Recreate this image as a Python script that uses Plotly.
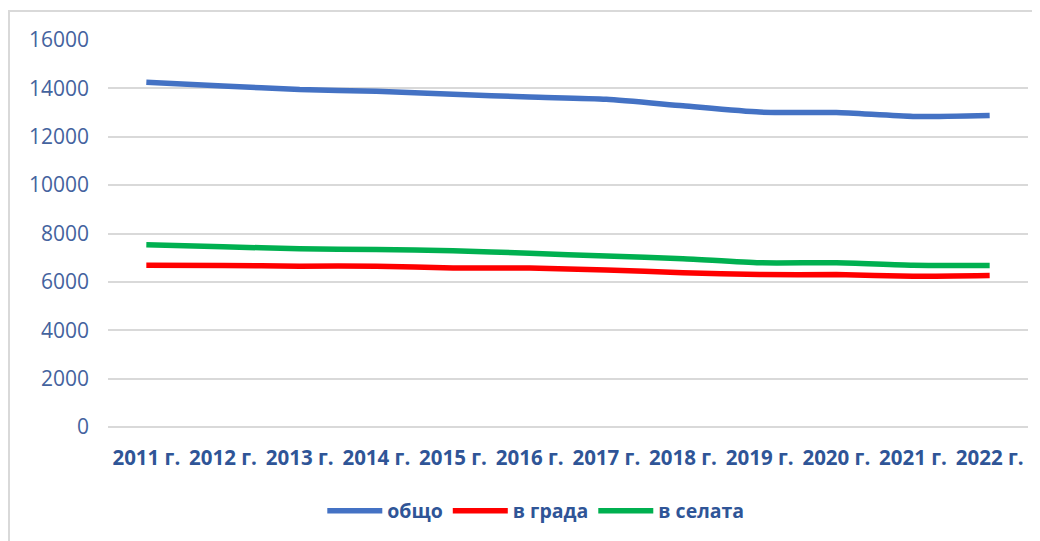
import plotly.graph_objects as go

# Data
years = ['2011 г.', '2012 г.', '2013 г.', '2014 г.', '2015 г.', '2016 г.',
         '2017 г.', '2018 г.', '2019 г.', '2020 г.', '2021 г.', '2022 г.']
total = [14250, 14100, 13950, 13880, 13760, 13640, 13550, 13280, 13020, 13000, 12840, 12880]
town = [6690, 6680, 6650, 6650, 6570, 6570, 6490, 6380, 6300, 6300, 6230, 6260]
villages = [7530, 7450, 7370, 7340, 7290, 7180, 7070, 6960, 6790, 6790, 6690, 6680]

series = [
    ('общо', total, '#4472C4'),
    ('в града', town, '#FF0000'),
    ('в селата', villages, '#00B050'),
]

fig = go.Figure()
for name, values, color in series:
    fig.add_trace(go.Scatter(
        x=years, y=values, name=name, mode='lines',
        line=dict(color=color, width=5.5, shape='spline', smoothing=0.6),
    ))

# Light grey frame around the whole chart
fig.add_shape(type='rect', xref='paper', yref='paper',
              x0=-0.1076, x1=1.04, y0=-0.33, y1=1.075,
              line=dict(color='#D9D9D9', width=2), fillcolor='rgba(0,0,0,0)')

# page body adds an 8px offset, margins are set to compensate
fig.update_layout(
    width=1040, height=541,
    margin=dict(l=100, r=20, t=32, b=122, autoexpand=False),
    paper_bgcolor='white', plot_bgcolor='white',
    font=dict(family='Open Sans, Liberation Sans, sans-serif'),
    showlegend=True,
    legend=dict(
        orientation='h', x=0.465, xanchor='center', y=-0.217, yanchor='middle',
        font=dict(size=19.5, color='#2F5597', family='Open Sans, sans-serif', weight='bold'),
        itemwidth=55, traceorder='normal',
    ),
    xaxis=dict(
        type='category', range=[-0.5, 11.5], showgrid=False, showline=False,
        ticks='', ticklabelstandoff=16, automargin=False,
        tickfont=dict(size=20.5, color='#2F5597', weight='bold'),
    ),
    yaxis=dict(
        range=[0, 16000], dtick=2000, tickformat='d', showgrid=True,
        gridcolor='#D9D9D9', gridwidth=2,
        zeroline=True, zerolinecolor='#D9D9D9', zerolinewidth=2, showline=False,
        ticks='', ticklabelstandoff=18, automargin=False,
        tickfont=dict(size=21, color='#44639E'),
    ),
)

fig.write_html('out.html')
